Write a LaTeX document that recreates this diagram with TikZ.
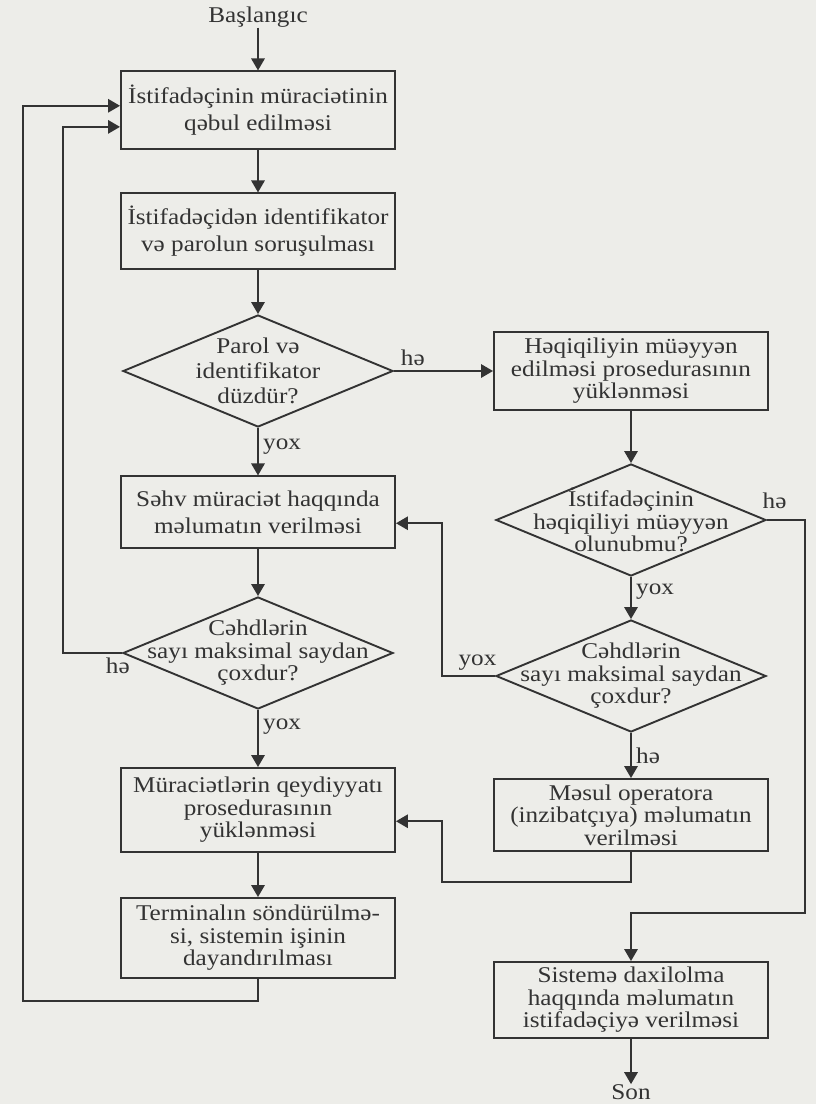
\documentclass[tikz,border=0pt]{standalone}
\usepackage{fontspec}
\setmainfont{Liberation Serif}[FakeStretch=1.12]
\usepackage{xcolor}
\usetikzlibrary{arrows.meta,shapes.geometric}

\begin{document}
\begin{tikzpicture}[x=0.025cm, y=-0.025cm]

% =======================================================
% Color definitions
% =======================================================
\definecolor{ink}{HTML}{333333}     % lines and text
\definecolor{paper}{HTML}{EDEDE9}   % page tone

% =======================================================
% Layout parameters (pixel grid, y runs downwards)
% =======================================================
\def\colL{258}    % left column
\def\colR{631}    % right column
\def\outerx{23}   % outer return line
\def\innerx{63}   % inner return line
\def\midx{442}    % returns from the right column
\def\rightx{805}  % bypass on the right

% =======================================================
% Styles
% =======================================================
\tikzset{
  txt/.style    = {ink, font=\fontsize{16}{16}\selectfont, align=center, inner sep=0pt},
  loose/.style  = {font=\fontsize{16}{19.2}\selectfont},
  proc/.style   = {txt, draw=ink, line width=1.35pt, minimum width=6.85cm},
  decide/.style = {diamond, draw=ink, line width=1.35pt, inner sep=0pt,
                   minimum width=6.75cm, minimum height=2.8cm},
  lbl/.style    = {txt, inner sep=3pt},
  flow/.style   = {draw=ink, line width=1.35pt, -{Triangle[length=8.5pt, width=9.5pt]}},
}

% page
\path[use as bounding box, fill=paper] (0,0) rectangle (816,1104);

% =======================================================
% Left column
% =======================================================
\node[txt] (start) at (\colL,17) {Başlangıc};

\node[proc, loose, minimum height=1.93cm] (accept) at (\colL,110)
    {İstifadəçinin müraciətinin\\qəbul edilməsi};

\node[proc, loose, minimum height=1.88cm] (ask) at (\colL,231)
    {İstifadəçidən identifikator\\və parolun soruşulması};

\node[decide, label={[txt, font=\fontsize{16}{17.8}\selectfont]center:{Parol və\\identifikator\\düzdür?}}]
    (check) at (\colL,371) {};

\node[proc, loose, minimum height=1.78cm] (wrong) at (\colL,512)
    {Səhv müraciət haqqında\\məlumatın verilməsi};

\node[decide, label={[txt]center:{Cəhdlərin\\sayı maksimal saydan\\çoxdur?}}]
    (triesL) at (\colL,653) {};

\node[proc, minimum height=2.1cm] (logreq) at (\colL,810)
    {Müraciətlərin qeydiyyatı\\prosedurasının\\yüklənməsi};

\node[proc, minimum height=2.0cm] (halt) at (\colL,938)
    {Terminalın söndürülmə-\\si, sistemin işinin\\dayandırılması};

% =======================================================
% Right column
% =======================================================
\node[proc, minimum height=1.93cm] (auth) at (\colR,371)
    {Həqiqiliyin müəyyən\\edilməsi prosedurasının\\yüklənməsi};

\node[decide, label={[txt]center:{İstifadəçinin\\həqiqiliyi müəyyən\\olunubmu?}}]
    (authok) at (\colR,520) {};

\node[decide, label={[txt]center:{Cəhdlərin\\sayı maksimal saydan\\çoxdur?}}]
    (triesR) at (\colR,676) {};

\node[proc, minimum height=1.8cm] (admin) at (\colR,815)
    {Məsul operatora\\(inzibatçıya) məlumatın\\verilməsi};

\node[proc, minimum height=1.9cm] (login) at (\colR,1000)
    {Sistemə daxilolma\\haqqında məlumatın\\istifadəçiyə verilməsi};

\node[txt] (stop) at (\colR,1092) {Son};

% turning points
\coordinate (outerturn) at (\outerx,1001);
\coordinate (innerturn) at (\innerx,0);
\coordinate (backturn)  at (\midx,0);
\coordinate (retturn)   at (\midx,882);
\coordinate (bypass)    at (\rightx,913);

% =======================================================
% Connectors
% =======================================================
\draw[flow] (start) -- (accept);
\draw[flow] (accept) -- (ask);
\draw[flow] (ask) -- (check);

\draw[flow] (check.east) -- (auth.west)
    node[lbl, pos=0.19, above] {hə};
\draw[flow] (check.south) -- (wrong.north)
    node[lbl, pos=0.4, right] {yox};

\draw[flow] (wrong) -- (triesL);
\draw[flow] (triesL.west) -- (triesL.west -| innerturn)
    node[lbl, pos=0.07, below] {hə}
    |- ([yshift=-12pt]accept.west);
\draw[flow] (triesL.south) -- (logreq.north)
    node[lbl, pos=0.3, right] {yox};

\draw[flow] (logreq) -- (halt);
\draw[flow] (halt.south) |- (outerturn) |- ([yshift=3pt]accept.west);

\draw[flow] (auth) -- (authok);
\draw[flow] (authok.east) -| (bypass)
    node[lbl, pos=0.1, above=4pt] {hə}
    -| (login.north);
\draw[flow] (authok.south) -- (triesR.north)
    node[lbl, pos=0.35, right] {yox};

\draw[flow] (triesR.west) -- (triesR.west -| backturn)
    node[lbl, pos=0.33, above] {yox}
    |- ([yshift=-8pt]wrong.east);
\draw[flow] (triesR.south) -- (admin.north)
    node[lbl, midway, right] {hə};

\draw[flow] (admin.south) |- (retturn) |- ([yshift=-8pt]logreq.east);
\draw[flow] (login) -- (stop);

\end{tikzpicture}
\end{document}
